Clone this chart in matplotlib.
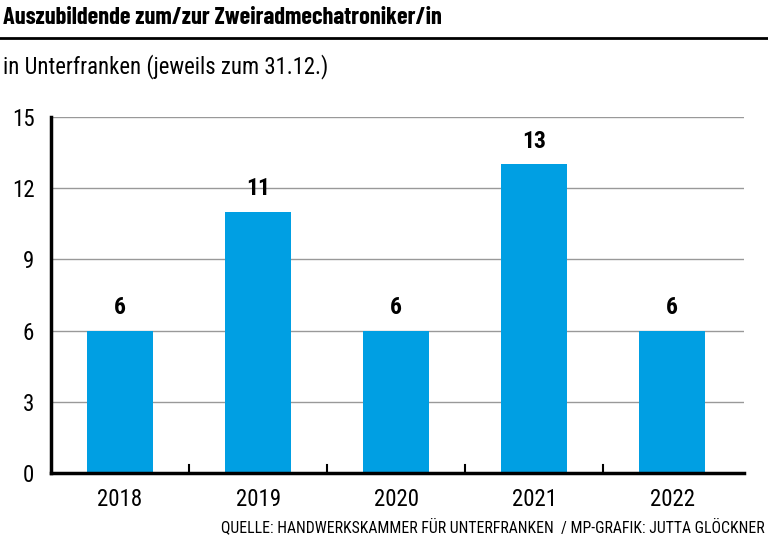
import matplotlib.pyplot as plt
from matplotlib import font_manager

years = ['2018', '2019', '2020', '2021', '2022']
azubis = [6, 11, 6, 13, 6]
y_ticks = [0, 3, 6, 9, 12, 15]

title = 'Auszubildende zum/zur Zweiradmechatroniker/in'
subtitle = 'in Unterfranken (jeweils zum 31.12.)'
source = 'QUELLE: HANDWERKSKAMMER FÜR UNTERFRANKEN  / MP-GRAFIK: JUTTA GLÖCKNER'


def pick(wanted):
    names = {f.name for f in font_manager.fontManager.ttflist}
    return next((n for n in wanted if n in names), 'DejaVu Sans')


# condensed faces close to the Frutiger Condensed of the original
font = pick(['Roboto Condensed', 'Open Sans Condensed', 'Asap Condensed',
             'Archivo Narrow', 'Liberation Sans Narrow', 'Liberation Sans'])
title_font = pick(['Barlow Condensed', 'Roboto Condensed', 'Archivo Narrow', 'Liberation Sans'])
plt.rcParams['font.family'] = [font, 'DejaVu Sans']

fig = plt.figure(figsize=(7.68, 5.41), dpi=100)
ax = fig.add_axes([51 / 768, 1 - 473 / 541, 693 / 768, 356 / 541])

x = range(len(years))
ax.bar(x, azubis, width=0.48, color='#009fe3', zorder=3)
for xi, v in zip(x, azubis):
    ax.text(xi, v + 0.5, str(v), ha='center', va='bottom', fontsize=17, fontweight='bold')

ax.set_xlim(-0.5, 4.52)
ax.set_ylim(0, 15)
ax.set_yticks(y_ticks)
ax.set_yticklabels([str(t) for t in y_ticks], fontsize=16.5)
ax.set_xticks(list(x))
ax.set_xticklabels(years, fontsize=16.5)
ax.tick_params(axis='x', length=0, pad=11)
ax.tick_params(axis='y', length=0, pad=12)
# short separators between the years
for b in [0.5, 1.5, 2.5, 3.5]:
    ax.plot([b, b], [0, 0.35], color='black', lw=1.5, zorder=4, clip_on=False)

ax.grid(axis='y', color='#999999', lw=1, zorder=0)
for s in ['top', 'right']:
    ax.spines[s].set_visible(False)
ax.spines['left'].set_linewidth(2.5)
ax.spines['bottom'].set_linewidth(2.5)
ax.spines['left'].set_zorder(5)
ax.spines['bottom'].set_zorder(5)

fig.text(3 / 768, 1 - 18 / 541, title, fontsize=17.5, fontweight='bold', va='center', ha='left',
         family=[title_font, 'DejaVu Sans'])
fig.add_artist(plt.Line2D([0, 1], [1 - 38 / 541, 1 - 38 / 541], color='black', lw=2))
fig.text(3 / 768, 1 - 67 / 541, subtitle, fontsize=16.4, va='center', ha='left')
fig.text(765 / 768, 1 - 527 / 541, source, fontsize=11.3, va='center', ha='right')

fig.savefig('out.png', dpi=100)
